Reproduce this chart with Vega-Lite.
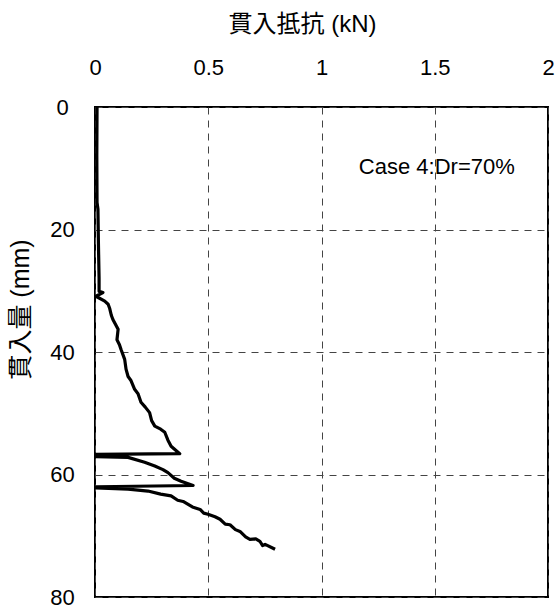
{
  "$schema": "https://vega.github.io/schema/vega-lite/v6.json",
  "autosize": {"type": "none"},
  "padding": {"left": 95, "top": 107, "right": 10, "bottom": 12},
  "width": 453,
  "height": 490,
  "config": {
    "font": "Liberation Sans, Arial, Noto Sans CJK JP",
    "view": {"stroke": "#000000", "strokeWidth": 2},
    "axis": {"domain": false, "ticks": false, "grid": true, "gridColor": "#444444", "gridDash": [7, 6], "gridWidth": 1, "labelColor": "#000000", "titleColor": "#000000", "labelFont": "Liberation Sans", "titleFont": "Liberation Sans, Noto Sans CJK JP", "titleFontWeight": "normal"}
  },
  "layer": [
    {
      "data": {"values": [
        {"i": 1, "kN": 0.009, "mm": 0.0},
        {"i": 2, "kN": 0.008, "mm": 8.0},
        {"i": 3, "kN": 0.009, "mm": 15.6},
        {"i": 4, "kN": 0.013, "mm": 16.7},
        {"i": 5, "kN": 0.015, "mm": 22.0},
        {"i": 6, "kN": 0.018, "mm": 28.0},
        {"i": 7, "kN": 0.018, "mm": 30.1},
        {"i": 8, "kN": 0.035, "mm": 30.3},
        {"i": 9, "kN": 0.004, "mm": 30.9},
        {"i": 10, "kN": 0.043, "mm": 31.7},
        {"i": 11, "kN": 0.058, "mm": 32.2},
        {"i": 12, "kN": 0.065, "mm": 32.9},
        {"i": 13, "kN": 0.072, "mm": 34.0},
        {"i": 14, "kN": 0.079, "mm": 34.7},
        {"i": 15, "kN": 0.092, "mm": 35.6},
        {"i": 16, "kN": 0.102, "mm": 36.3},
        {"i": 17, "kN": 0.097, "mm": 38.0},
        {"i": 18, "kN": 0.108, "mm": 38.8},
        {"i": 19, "kN": 0.115, "mm": 39.6},
        {"i": 20, "kN": 0.131, "mm": 41.2},
        {"i": 21, "kN": 0.137, "mm": 42.8},
        {"i": 22, "kN": 0.146, "mm": 44.0},
        {"i": 23, "kN": 0.158, "mm": 44.6},
        {"i": 24, "kN": 0.175, "mm": 46.1},
        {"i": 25, "kN": 0.190, "mm": 46.8},
        {"i": 26, "kN": 0.203, "mm": 48.2},
        {"i": 27, "kN": 0.222, "mm": 49.0},
        {"i": 28, "kN": 0.241, "mm": 49.9},
        {"i": 29, "kN": 0.250, "mm": 51.2},
        {"i": 30, "kN": 0.264, "mm": 52.1},
        {"i": 31, "kN": 0.290, "mm": 52.6},
        {"i": 32, "kN": 0.308, "mm": 53.1},
        {"i": 33, "kN": 0.322, "mm": 54.4},
        {"i": 34, "kN": 0.336, "mm": 55.4},
        {"i": 35, "kN": 0.374, "mm": 56.6},
        {"i": 36, "kN": 0.004, "mm": 56.7},
        {"i": 37, "kN": 0.004, "mm": 57.1},
        {"i": 38, "kN": 0.146, "mm": 57.2},
        {"i": 39, "kN": 0.219, "mm": 58.0},
        {"i": 40, "kN": 0.264, "mm": 58.6},
        {"i": 41, "kN": 0.300, "mm": 59.2},
        {"i": 42, "kN": 0.322, "mm": 59.7},
        {"i": 43, "kN": 0.350, "mm": 60.6},
        {"i": 44, "kN": 0.380, "mm": 61.1},
        {"i": 45, "kN": 0.433, "mm": 61.8},
        {"i": 46, "kN": 0.004, "mm": 62.0},
        {"i": 47, "kN": 0.004, "mm": 62.2},
        {"i": 48, "kN": 0.146, "mm": 62.4},
        {"i": 49, "kN": 0.234, "mm": 62.7},
        {"i": 50, "kN": 0.290, "mm": 63.2},
        {"i": 51, "kN": 0.336, "mm": 63.5},
        {"i": 52, "kN": 0.365, "mm": 64.2},
        {"i": 53, "kN": 0.389, "mm": 64.4},
        {"i": 54, "kN": 0.430, "mm": 65.3},
        {"i": 55, "kN": 0.464, "mm": 65.7},
        {"i": 56, "kN": 0.480, "mm": 66.3},
        {"i": 57, "kN": 0.499, "mm": 66.5},
        {"i": 58, "kN": 0.530, "mm": 66.9},
        {"i": 59, "kN": 0.552, "mm": 67.3},
        {"i": 60, "kN": 0.575, "mm": 68.1},
        {"i": 61, "kN": 0.596, "mm": 68.2},
        {"i": 62, "kN": 0.620, "mm": 69.0},
        {"i": 63, "kN": 0.640, "mm": 69.3},
        {"i": 64, "kN": 0.665, "mm": 70.2},
        {"i": 65, "kN": 0.684, "mm": 70.6},
        {"i": 66, "kN": 0.710, "mm": 70.5},
        {"i": 67, "kN": 0.728, "mm": 70.9},
        {"i": 68, "kN": 0.740, "mm": 71.6},
        {"i": 69, "kN": 0.751, "mm": 71.4},
        {"i": 70, "kN": 0.795, "mm": 72.2}
      ]},
      "mark": {"type": "line", "color": "#000000", "strokeWidth": 3.2, "strokeJoin": "round"},
      "encoding": {
        "x": {"field": "kN", "type": "quantitative", "scale": {"domain": [0, 2], "nice": false},
          "axis": {"orient": "top", "values": [0, 0.5, 1, 1.5, 2], "format": "~g", "labelFontSize": 22, "labelPadding": 28, "labelFlush": false,
            "title": "貫入抵抗 (kN)", "titleFontSize": 24, "titleX": 207, "titleY": -83, "titleBaseline": "middle", "titleAnchor": null}},
        "y": {"field": "mm", "type": "quantitative", "scale": {"domain": [0, 80], "reverse": true, "nice": false},
          "axis": {"values": [0, 20, 40, 60, 80], "labelFontSize": 22, "labelPadding": 33, "labelAlign": "center", "labelBaseline": "middle", "labelFlush": false,
            "title": "貫入量 (mm)", "titleFontSize": 25, "titleAngle": 270, "titleX": -75, "titleY": 202, "titleAlign": "center", "titleBaseline": "middle"}},
        "order": {"field": "i", "type": "quantitative"}
      }
    },
    {
      "data": {"values": [{"label": "Case 4:Dr=70%"}]},
      "mark": {"type": "text", "align": "left", "baseline": "middle", "fontSize": 22, "font": "Liberation Sans", "color": "#000000"},
      "encoding": {
        "text": {"field": "label", "type": "nominal"},
        "x": {"datum": 1.165, "type": "quantitative"},
        "y": {"datum": 9.8, "type": "quantitative"}
      }
    }
  ]
}
